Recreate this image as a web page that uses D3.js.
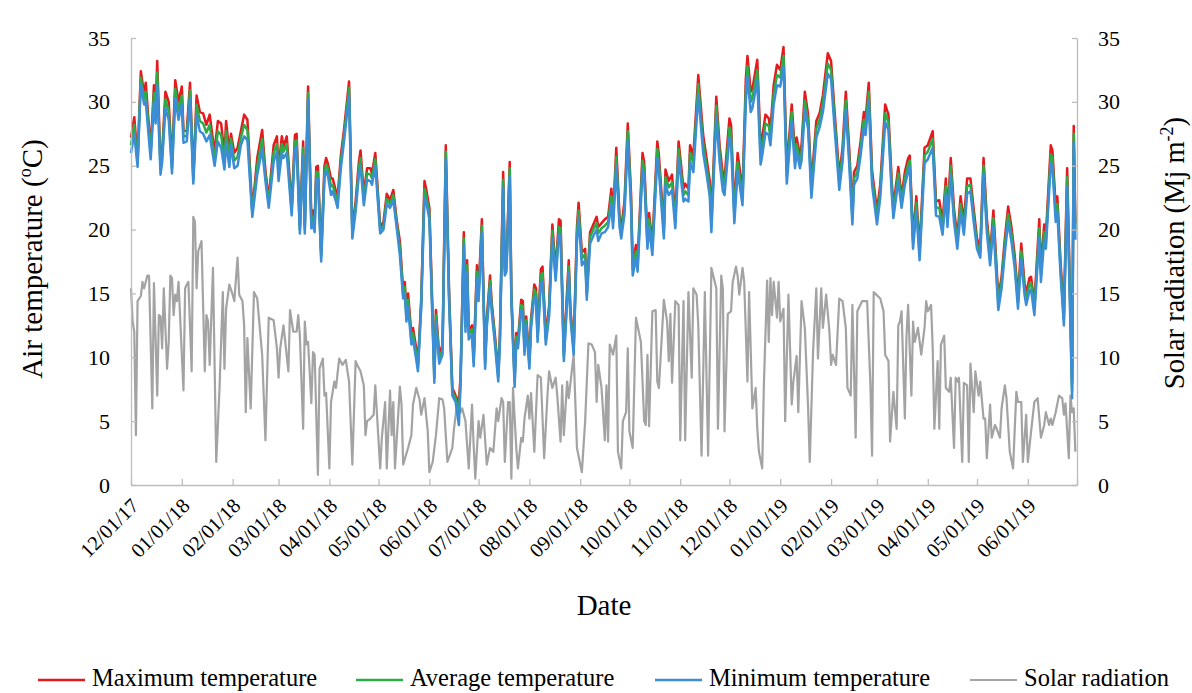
<!DOCTYPE html>
<html>
<head>
<meta charset="utf-8">
<script src="https://cdn.jsdelivr.net/npm/d3@7"></script>
<style>
  body { margin: 0; background: #fff; }
  text { font-family: "Liberation Serif", "Times New Roman", serif; fill: #000; }
</style>
</head>
<body>
<div id="chart"></div>
<script>

const WIDTH = 1192;
const HEIGHT = 693;
const LEFT = 131, RIGHT = 1077, TOP = 38, BOTTOM = 485;

const START = "2017-12-01";
const END = "2019-07-01";

// x axis labels (first of each month)
const monthLabels = ["12/01/17","01/01/18","02/01/18","03/01/18","04/01/18","05/01/18","06/01/18",
  "07/01/18","08/01/18","09/01/18","10/01/18","11/01/18","12/01/18","01/01/19","02/01/19",
  "03/01/19","04/01/19","05/01/19","06/01/19"];
const yTicks = [0, 5, 10, 15, 20, 25, 30, 35];

// temperature readings: day offset from 12/01/17, then max / average / min (degC)
const tempDay = [
  0,2,4,6,8,9,12,14,15,16, 18,19,21,23,25,27,29,31,32,34, 36,38,40,42,44,46,48,50,51,53,
  55,57,58,60,61,63,65,67,69,71, 74,77,80,82,84,87,89,90,92,93, 95,98,100,101,103,105,106,108,110,111,
  112,113,114,116,118,119,120,122,123,125, 126,128,130,133,135,137,139,140,142,144, 146,147,149,152,154,156,158,160,162,164,
  166,167,168,169,171,172,174,175,177,179, 180,182,185,186,188,190,192,194,196,198, 200,201,203,204,205,206,208,209,211,212,
  214,215,216,217,219,220,222,224,225,227, 228,229,231,232,234,235,236,238,239,240, 241,243,244,246,247,248,250,251,253,255,
  257,259,261,262,264,267,268,270,272,273, 275,277,278,280,282,284,285,287,289,291, 293,294,296,298,299,301,303,305,306,308,
  309,312,313,315,316,318,321,322,325,326, 328,330,332,334,337,338,340,341,343,346, 349,351,353,354,357,359,361,362,365,366,
  368,370,373,375,376,378,379,382,384,385, 387,389,390,392,394,396,398,400,403,405, 406,408,409,411,413,415,418,420,422,425,
  427,429,432,434,436,438,440,441,443,445, 447,448,450,452,455,457,460,462,464,465, 468,470,472,474,475,477,479,481,484,486,
  489,491,493,495,497,498,500,502,504,506, 508,510,512,514,516,518,520,522,524,526, 529,531,533,535,537,539,541,543,545,546,
  548,549,551,554,555,557,558,561,562,564, 565,567,569,571,574,575,576
];
const tMax = [
  27.2,28.8,25.5,32.4,30.6,31.5,26.2,31.3,29.5,33.2, 25.0,26.0,30.8,30.0,25.2,31.7,30.0,31.2,27.8,27.7, 31.5,24.2,30.5,29.2,29.1,28.2,29.0,27.0,26.2,28.5,
  28.3,25.8,28.5,26.0,27.5,26.0,26.4,27.7,29.0,28.6, 21.5,25.6,27.8,24.6,22.4,26.6,27.3,24.8,27.3,26.5, 27.3,21.8,27.4,27.5,20.3,26.9,20.3,31.2,20.8,21.5,
  20.6,24.9,25.0,18.2,25.0,25.6,25.2,24.0,24.0,23.0, 22.5,25.8,27.9,31.6,20.0,22.2,25.3,26.2,22.8,24.8, 24.8,24.4,26.0,20.2,20.6,22.8,22.3,23.1,20.8,19.1,
  15.2,15.9,13.4,15.0,11.8,12.3,10.7,9.5,14.5,23.8, 23.2,21.7,8.8,13.7,10.2,11.0,26.6,15.2,7.6,7.0, 6.5,8.5,19.8,12.8,17.6,12.1,12.5,10.0,17.2,15.2,
  20.8,15.2,9.8,13.0,16.4,14.3,11.7,8.8,11.7,24.5, 17.0,17.3,25.3,15.0,8.4,11.9,11.3,14.5,14.4,10.8, 13.2,9.8,13.0,15.7,15.4,12.0,16.9,17.1,11.7,14.0,
  20.4,16.8,20.8,20.7,10.4,17.6,13.8,10.9,20.2,22.1, 18.2,18.5,15.2,19.8,20.4,21.0,20.2,20.5,20.8,21.0, 23.2,21.0,26.4,21.0,20.1,22.2,28.3,22.8,17.3,18.8,
  17.5,26.0,25.3,19.3,21.3,18.9,26.9,25.8,20.2,24.7, 23.8,24.3,21.0,26.9,23.2,23.6,23.2,26.6,25.8,32.1, 27.4,25.6,23.8,20.9,30.4,26.6,24.3,24.0,28.7,28.2,
  21.6,26.0,23.0,31.8,33.6,30.8,31.0,33.3,26.6,27.2, 29.0,28.7,27.8,31.3,32.9,32.5,34.3,24.8,29.8,26.0, 27.2,25.8,26.6,30.8,29.0,23.6,28.5,29.1,30.5,33.8,
  33.2,29.5,24.2,26.4,30.8,26.5,21.3,24.5,25.0,26.9, 29.2,28.6,31.5,24.6,21.5,23.5,29.8,29.0,23.8,21.8, 24.9,22.6,24.5,25.6,25.8,19.4,22.6,18.5,26.4,26.6,
  27.7,22.2,22.3,20.6,24.0,21.2,25.6,21.6,19.4,22.6, 20.6,24.0,24.0,21.6,19.3,18.6,25.6,20.9,18.1,21.5, 14.7,16.3,19.3,21.8,20.2,18.0,14.7,18.9,15.8,15.0,
  16.2,16.3,14.2,20.8,17.0,20.4,19.5,26.6,26.2,21.8, 22.6,17.4,13.4,24.8,8.0,28.1,20.5
];
const tAvg = [
  26.6,28.2,25.2,31.9,30.2,30.8,25.9,30.7,28.9,32.3, 24.7,25.7,30.2,29.3,24.8,31.0,29.3,30.5,27.3,27.3, 30.9,23.9,29.8,28.5,28.3,27.6,28.2,26.4,25.6,27.7,
  27.4,25.3,27.7,25.5,27.1,25.4,25.7,27.2,28.2,27.8, 21.3,25.0,27.1,24.2,22.1,26.0,26.7,24.3,26.7,26.1, 26.7,21.5,26.9,27.0,20.0,26.4,20.0,30.7,20.5,21.0,
  20.2,24.5,24.5,17.9,24.5,25.1,24.8,23.4,23.5,22.6, 22.1,25.3,27.5,31.1,19.7,21.8,24.8,25.6,22.4,24.4, 24.3,24.0,25.5,20.0,20.3,22.4,22.0,22.7,20.5,18.6,
  14.9,15.5,13.1,14.5,11.4,11.9,10.3,9.2,14.2,23.2, 22.7,21.3,8.4,13.3,9.9,10.6,26.1,14.8,7.3,6.8, 5.6,8.2,19.3,12.4,17.2,11.8,12.2,9.7,16.7,14.8,
  20.3,14.8,9.5,12.7,16.0,14.0,11.4,8.5,11.4,23.9, 16.7,17.0,24.8,14.7,8.1,11.6,11.0,14.1,14.0,10.5, 12.9,9.5,12.7,15.3,15.0,11.6,16.4,16.6,11.4,13.6,
  19.9,16.4,20.2,20.1,10.1,17.1,13.5,10.6,19.7,21.5, 17.7,18.1,14.9,19.4,20.0,20.5,19.7,20.1,20.3,20.6, 22.6,20.6,25.7,20.6,19.7,21.7,27.7,22.3,16.9,18.3,
  17.1,25.4,24.8,18.9,20.8,18.5,26.3,25.2,19.8,24.1, 23.3,23.7,20.6,26.3,22.7,23.0,22.7,26.0,25.2,31.4, 26.7,25.0,23.2,20.4,29.7,26.0,23.7,23.4,28.0,27.5,
  21.1,25.3,22.5,30.9,32.8,30.0,30.3,32.5,25.9,26.5, 28.3,28.1,27.2,30.6,32.1,31.9,33.6,24.2,29.2,25.4, 26.7,25.3,26.0,30.1,28.5,23.1,27.9,28.6,29.9,33.0,
  32.5,28.9,23.7,25.9,30.1,25.9,20.9,24.0,24.5,26.4, 28.6,28.0,30.8,24.1,21.0,23.0,29.1,28.4,23.3,21.4, 24.4,22.2,24.0,25.1,25.4,19.0,22.1,18.1,25.8,26.1,
  27.1,21.7,21.7,20.1,23.4,20.7,25.0,21.1,19.0,22.0, 20.1,23.4,23.5,21.1,18.9,18.2,25.0,20.4,17.7,20.9, 14.2,15.9,18.8,21.2,19.7,17.5,14.3,18.3,15.4,14.6,
  15.7,15.8,13.8,20.1,16.5,19.8,19.0,25.9,25.6,21.2, 22.0,16.9,13.0,24.1,7.4,27.5,19.9
];
const tMin = [
  26.0,27.5,24.9,31.4,29.8,30.0,25.5,30.0,28.3,31.3, 24.3,25.3,29.5,28.6,24.4,30.3,28.6,29.8,26.8,26.9, 30.3,23.6,29.0,27.7,27.5,26.9,27.4,25.8,25.0,26.9,
  26.4,24.7,26.8,24.9,26.6,24.8,25.0,26.6,27.3,27.0, 21.0,24.3,26.3,23.8,21.7,25.3,26.1,23.8,26.0,25.6, 26.0,21.1,26.3,26.5,19.7,25.8,19.7,30.2,20.1,20.5,
  19.8,24.0,24.0,17.5,24.0,24.6,24.3,22.7,23.0,22.2, 21.7,24.8,27.0,30.5,19.3,21.4,24.3,25.0,21.9,23.9, 23.8,23.5,25.0,19.7,20.0,22.0,21.7,22.3,20.2,18.0,
  14.6,15.0,12.8,14.0,11.0,11.4,9.8,8.9,13.8,22.5, 22.2,20.8,8.0,12.8,9.5,10.2,25.5,14.4,7.0,6.5, 4.7,7.8,18.8,12.0,16.7,11.4,11.8,9.3,16.2,14.4,
  19.8,14.4,9.1,12.3,15.5,13.6,11.0,8.1,11.0,23.3, 16.4,16.7,24.2,14.4,7.7,11.2,10.7,13.7,13.6,10.2, 12.5,9.1,12.3,14.8,14.6,11.2,15.8,16.0,11.0,13.2,
  19.3,16.0,19.6,19.5,9.7,16.6,13.1,10.2,19.1,20.9, 17.2,17.6,14.5,18.9,19.5,20.0,19.1,19.7,19.8,20.2, 22.0,20.1,25.0,20.2,19.3,21.2,27.0,21.7,16.4,17.8,
  16.7,24.7,24.2,18.5,20.2,18.0,25.6,24.6,19.3,23.5, 22.7,23.1,20.1,25.6,22.2,22.4,22.2,25.3,24.5,30.6, 26.0,24.4,22.6,19.8,28.9,25.3,23.0,22.7,27.2,26.8,
  20.5,24.6,21.9,30.0,32.0,29.2,29.5,31.7,25.1,25.8, 27.6,27.4,26.6,29.8,31.3,31.2,32.8,23.6,28.5,24.8, 26.1,24.8,25.4,29.4,27.9,22.5,27.2,28.0,29.2,32.2,
  31.8,28.2,23.1,25.3,29.4,25.3,20.4,23.5,24.0,25.8, 28.0,27.4,30.1,23.5,20.4,22.5,28.4,27.8,22.8,20.9, 23.8,21.7,23.5,24.5,24.9,18.5,21.5,17.6,25.2,25.5,
  26.4,21.1,21.0,19.6,22.8,20.2,24.3,20.6,18.5,21.4, 19.6,22.8,23.0,20.6,18.5,17.8,24.4,19.8,17.2,20.3, 13.7,15.4,18.2,20.6,19.1,17.0,13.8,17.7,14.9,14.1,
  15.2,15.3,13.3,19.4,15.9,19.2,18.5,25.2,24.9,20.6, 21.4,16.4,12.5,23.4,6.8,26.8,19.2
];

// solar radiation readings: day offset from 12/01/17, value (Mj m-2)
const solDay = [
  0,1,2,3,4,5,6,7,8,10, 11,13,14,16,17,18,19,20,22,23, 24,25,26,27,28,29,32,33,34,35, 37,38,39,40,41,43,45,46,47,48,
  50,52,54,56,57,58,60,62,63,65, 66,68,69,70,71,73,75,77,78,80, 82,84,87,89,90,91,93,96,97,99, 101,102,103,105,106,107,108,110,111,112,
  114,115,117,118,119,121,122,124,125,127, 129,131,133,135,137,138,140,142,143,144, 146,148,149,152,153,155,156,158,159,160, 161,164,165,166,169,171,172,174,176,177,
  179,181,182,184,186,188,190,191,193,196, 197,199,201,202,204,206,208,209,210,212, 213,215,217,219,221,223,224,226,227,228, 230,231,232,233,235,236,238,239,240,242,
  243,244,246,248,250,252,254,255,257,259, 260,262,263,264,266,267,269,270,272,275, 277,279,281,283,284,285,287,289,290,291, 292,294,296,297,299,300,302,303,304,306,
  308,311,313,314,315,316,318,320,321,322, 325,327,328,329,330,332,334,335,337,338, 340,342,343,345,346,348,350,352,354,357, 358,360,361,362,364,366,367,369,370,371,
  373,374,376,377,379,381,382,383,385,386, 388,389,390,391,392,394,395,396,398,399, 401,403,404,406,407,409,411,413,414,416, 418,419,421,422,424,426,427,428,430,432,
  434,436,437,439,440,442,443,446,449,451, 452,453,457,459,460,462,463,465,467,468, 469,470,472,473,474,476,477,478,480,482, 484,485,486,488,489,490,492,493,494,496,
  497,499,500,502,503,504,505,507,508,510, 511,512,514,515,517,518,520,521,522,524, 525,527,528,530,531,533,534,536,538,540, 541,543,544,546,547,549,551,553,555,557,
  558,560,561,562,564,566,568,569,570,572, 573,574,575,576
];
const solar = [
  15.4,12.8,12,3.9,14.4,14.6,14.8,15.9,15.4,16.4, 16.4,6,15.8,7,13.3,13.2,10.7,15.4,9.1,11.2, 16.4,16.2,13.3,14.9,14.4,15.9,7.4,15.4,15.7,15.9, 8.9,21,20.6,15.4,18.3,19.1,8.9,13.3,12.8,9.4,
  17,1.8,7.6,15.1,9.1,13.8,15.7,14.9,14.4,17.8, 14.9,14.4,12.5,5.7,11.5,6,15.1,14.6,13.1,10.2, 3.5,13.1,12.9,10.7,8.4,10.7,12.5,8.9,13.7,12, 12,13.3,11.7,4.4,12.8,11,11.2,6.4,10.4,10.2,
  0.8,9.1,9.9,7,7.2,1.3,6.5,8.1,7.6,9.9, 9.4,9.8,8.1,1.6,9.7,9.4,8.9,7.8,3.9,5, 5.2,5.5,7.8,1.3,3.7,6.5,1.3,7.4,3.9,6.5, 1.3,7.7,6.3,1.6,2.9,3.9,6.3,7.6,6.7,5.5,
  6.8,4.2,1,1.8,3.9,6.8,6.7,6,1.8,2.9, 4.4,6.5,5.7,6,5,1.3,6.3,3.1,0.5,5, 3.7,5.5,1.6,2.9,2.6,6,5,6.8,6.5,1.8, 6.5,6.5,0.5,7.6,2.9,1.3,3.7,3.4,5.2,7,
  5.2,7.2,2.6,8.6,8.4,2.1,7,8.9,7.6,8.4, 7,3.4,7.8,3.9,8.1,6.8,9.1,10.2,2.9,1, 5,11.1,11,10.4,6.5,9.4,7.6,3.5,7.8,3.4, 11,10.2,11.7,2.6,1.3,5,5.7,10.7,4.2,2.9,
  13.1,11.2,5,4.7,10.2,4.6,13.6,13.7,8.1,7.6, 14.5,12.8,9.7,13.4,8,14.4,14.1,3.5,14.4,3.5, 15.1,8.4,15.4,14.9,12.5,2.3,15.1,2.3,17,15.4, 4.4,16.4,15.4,4.2,13.4,13.6,15.9,17.1,16.4,14.9,
  17,15.9,8.1,15.1,6,7.6,4.4,2.6,1.3,7.8, 16,11.2,16.2,13.3,15.9,13.1,15.9,12.8,13.8,5, 14.9,6.3,8.1,10.1,5.7,14.4,12.3,6,1.8,10.4, 15.4,9.9,15.4,12.3,14.9,12,9.4,10.2,9.4,14.6,
  14.4,12.3,7.6,7,14.1,3.7,13.6,14.4,14.4,7.8, 2.3,15.1,14.6,13.6,10.2,9.7,3.4,7.3,4.4,12.5, 12.8,13.6,5.2,11.7,14.1,7,12.8,11.2,12.3,10.2, 12.3,14.4,13.6,14.1,10.7,4.4,9.7,4.4,11,11.7,
  7.6,7.3,8.4,2.9,8.4,8.1,8.4,1.8,8,7.8, 1.8,9.5,5.7,8.9,7,8.1,5.2,5.2,2.1,6.3, 3.7,4.7,4.4,3.7,6,7.8,6.8,2.6,1.3,7.3, 6.5,6.5,1.8,5.5,1.8,4.2,6.5,6.8,3.7,4.7,
  5.7,4.7,5.2,4.7,5.7,7,6.8,5.5,6.4,2.1, 7,5.7,6,2.6
];

const seriesNames = ["Maximum temperature", "Average temperature", "Minimum temperature", "Solar radiation"];
const seriesColors = ["#e41a1c", "#2cab47", "#3b8ed6", "#a3a3a3"];

const AXIS_COLOR = "#bdbdbd";
const FONT = "Liberation Serif, Times New Roman, serif";

var svg = d3.select("#chart").append("svg")
    .attr("width", WIDTH)
    .attr("height", HEIGHT);

var start = d3.utcParse("%Y-%m-%d")(START);
var end = d3.utcParse("%Y-%m-%d")(END);

var x = d3.scaleUtc().domain([start, end]).range([LEFT, RIGHT]);
var y = d3.scaleLinear().domain([0, 35]).range([BOTTOM, TOP]);
var y2 = d3.scaleLinear().domain([0, 35]).range([BOTTOM, TOP]);

function dayToDate(d) { return d3.utcDay.offset(start, d); }

// lines, solar first so temperatures sit on top
var solarPts = solDay.map(function (d, i) { return [dayToDate(d), solar[i]]; });
var lineSolar = d3.line().x(function (d) { return x(d[0]); }).y(function (d) { return y2(d[1]); });
svg.append("path")
    .attr("d", lineSolar(solarPts))
    .attr("fill", "none")
    .attr("stroke", seriesColors[3])
    .attr("stroke-width", 2.2)
    .attr("stroke-linejoin", "round");

var lineT = d3.line().x(function (d) { return x(d[0]); }).y(function (d) { return y(d[1]); });
[tMax, tAvg, tMin].forEach(function (vals, k) {
    var pts = tempDay.map(function (d, i) { return [dayToDate(d), vals[i]]; });
    svg.append("path")
        .attr("d", lineT(pts))
        .attr("fill", "none")
        .attr("stroke", seriesColors[k])
        .attr("stroke-width", 2.5)
        .attr("stroke-linejoin", "round");
});

// axes
function styleAxis(g) {
    g.select(".domain").attr("stroke", AXIS_COLOR).attr("stroke-width", 1.3);
    g.selectAll(".tick line").attr("stroke", AXIS_COLOR).attr("stroke-width", 1.3);
    g.selectAll("text").attr("font-family", FONT).attr("font-size", 22).attr("fill", "#000");
}

svg.append("g")
    .attr("transform", "translate(" + LEFT + ",0)")
    .call(d3.axisLeft(y).tickValues(yTicks).tickSize(-5).tickPadding(21).tickSizeOuter(0))
    .call(styleAxis);

svg.append("g")
    .attr("transform", "translate(" + RIGHT + ",0)")
    .call(d3.axisRight(y2).tickValues(yTicks).tickSize(-5).tickPadding(21).tickSizeOuter(0))
    .call(styleAxis);

var months = d3.utcMonth.range(start, d3.utcDay.offset(end, 1));
svg.append("g")
    .attr("transform", "translate(0," + BOTTOM + ")")
    .call(d3.axisBottom(x).tickValues(months).tickSize(-6).tickSizeOuter(0).tickFormat(""))
    .call(styleAxis);

// rotated month labels
monthLabels.forEach(function (lab, i) {
    var px = x(months[i]);
    svg.append("text")
        .attr("transform", "translate(" + (px + 4) + "," + (BOTTOM + 17) + ") rotate(-45)")
        .attr("text-anchor", "end")
        .attr("dy", "0.35em")
        .attr("font-size", 20.5)
        .text(lab);
});

// axis titles
var tl = svg.append("text")
    .attr("transform", "translate(42,259) rotate(-90)")
    .attr("text-anchor", "middle")
    .attr("font-size", 29);
tl.append("tspan").text("Air temperature (");
tl.append("tspan").attr("font-size", 18).attr("dy", -11).text("o");
tl.append("tspan").attr("dy", 11).text("C)");

var tr = svg.append("text")
    .attr("transform", "translate(1184,253) rotate(-90)")
    .attr("text-anchor", "middle")
    .attr("font-size", 28.5);
tr.append("tspan").text("Solar radiation (Mj m");
tr.append("tspan").attr("font-size", 18).attr("dy", -11).text("-2");
tr.append("tspan").attr("dy", 11).text(")");

svg.append("text")
    .attr("x", 604)
    .attr("y", 615)
    .attr("text-anchor", "middle")
    .attr("font-size", 29)
    .text("Date");

// legend
var legendX = [38, 356, 655, 970];
seriesNames.forEach(function (name, i) {
    svg.append("line")
        .attr("x1", legendX[i]).attr("x2", legendX[i] + 47)
        .attr("y1", 680).attr("y2", 680)
        .attr("stroke", seriesColors[i])
        .attr("stroke-width", i == 3 ? 2 : 2.5);
    svg.append("text")
        .attr("x", legendX[i] + 54)
        .attr("y", 686)
        .attr("font-size", 24.5)
        .text(name);
});

</script>
</body>
</html>
